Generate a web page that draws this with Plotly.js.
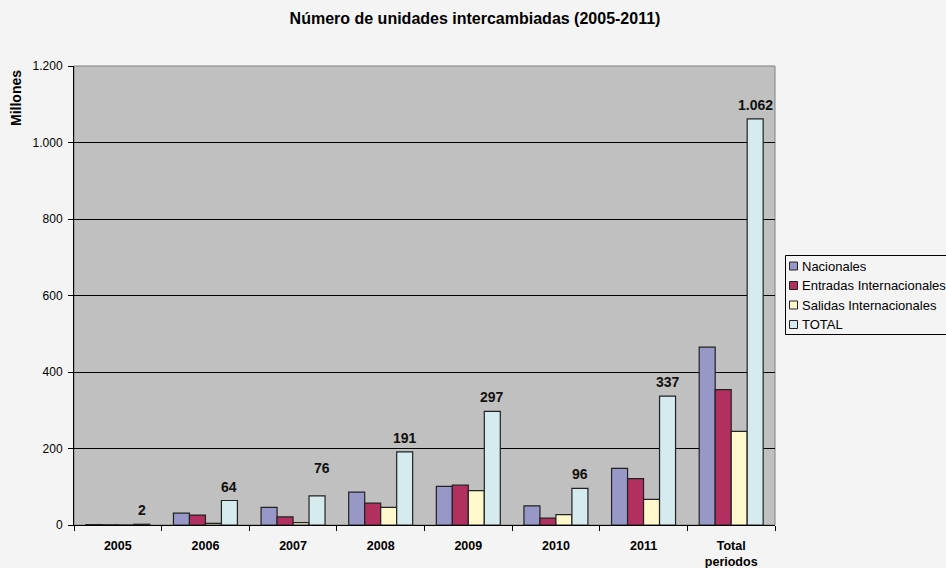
<!DOCTYPE html>
<html><head><meta charset="utf-8">
<script src="https://cdn.plot.ly/plotly-3.0.1.min.js"></script>
<style>html,body{margin:0;padding:0;background:#f4f4f4;}#chart{width:946px;height:568px;}</style>
</head><body><div id="chart"></div>
<script>
const categories = ['2005','2006','2007','2008','2009','2010','2011','Total<br>periodos'];
const nacionales = [1, 31, 46, 86, 101, 50, 148, 465];
const entradas = [0.5, 26, 21, 57, 104, 18, 121, 354];
const salidas = [0.3, 4, 6, 46, 90, 27, 67, 245];
const total = [2, 64, 76, 191, 297, 96, 337, 1062];
const seriesNames = ['Nacionales','Entradas Internacionales','Salidas Internacionales','TOTAL'];
const colors = ['#9898C8','#B2305F','#FFF8CC','#D5EBEE'];
const yTicks = [0,200,400,600,800,1000,1200];

const W = 946, H = 568, L = 74, R = 171, T = 66, B = 43;
const pw = W - L - R, ph = H - T - B;
const px = v => (v - L) / pw;
const py = v => (H - B - v) / ph;
const fmt = v => String(Math.round(v)).replace(/\B(?=(\d{3})+(?!\d))/g, '.');

const line = {color:'#222', width:1.2};
const traces = [nacionales, entradas, salidas, total].map((v,i)=>({
  type:'bar', x:categories, y:v, name:seriesNames[i],
  marker:{color:colors[i], line:line},
  hoverinfo:'skip', showlegend:false
}));

const bargap = 0.27;
const barW = pw / categories.length * (1 - bargap) / 4;

// label placement tweak (the 2007 label sits higher in the original)
const labelNudge = {2: {dx:5, dy:14}};
const annotations = total.map((v,i)=>({
  x: i, y: v, xref:'x', yref:'y', text:'<b>'+fmt(v)+'</b>', showarrow:false,
  xanchor:'center', yanchor:'bottom',
  xshift: barW*1.5 + (labelNudge[i] ? labelNudge[i].dx : 0),
  yshift: 4 + (labelNudge[i] ? labelNudge[i].dy : 0),
  font:{size:14, color:'#111'}
}));

const shapes = [{type:'rect', xref:'paper', yref:'paper', x0:0, x1:1, y0:0, y1:1, line:{color:'#808080', width:1}, layer:'below'}];
// legend
shapes.push({type:'rect', xref:'paper', yref:'paper', x0:px(785.5), x1:px(960), y0:py(255.5), y1:py(334.5), line:{color:'#000', width:1}, fillcolor:'#f4f4f4'});
const legY = [266, 285.5, 305, 324.5];
seriesNames.forEach((n,i)=>{
  shapes.push({type:'rect', xref:'paper', yref:'paper', x0:px(789.5), x1:px(797.5), y0:py(legY[i]-4), y1:py(legY[i]+4), line:{color:'#222', width:1}, fillcolor:colors[i]});
  annotations.push({xref:'paper', yref:'paper', x:px(799.5), y:py(legY[i]), text:n, showarrow:false, xanchor:'left', yanchor:'middle', font:{size:13, color:'#000'}});
});
annotations.push({xref:'paper', yref:'paper', x:px(16), y:py(98), text:'<b>Millones</b>', textangle:-90, showarrow:false, xanchor:'center', yanchor:'middle', font:{size:14}});

const layout = {
  width:W, height:H,
  margin:{l:L, r:R, t:T, b:B, autoexpand:false},
  paper_bgcolor:'#f4f4f4', plot_bgcolor:'#C0C0C0',
  separators:',.',
  font:{family:'Liberation Sans, Arial, sans-serif', size:12, color:'#000'},
  title:{text:'<b>Número de unidades intercambiadas (2005-2011)</b>', x:px(475), xanchor:'center', xref:'paper', y:(H-18)/H, yanchor:'middle', font:{size:16}},
  barmode:'group', bargap:bargap, bargroupgap:0,
  xaxis:{type:'category', categoryorder:'array', categoryarray:categories, range:[-0.5, categories.length-0.5],
    tickson:'boundaries', ticks:'outside', ticklen:5, tickcolor:'#000',
    showline:true, linecolor:'#000', linewidth:1, tickfont:{size:12.5, weight:'bold'}, showgrid:false, ticklabelstandoff:9},
  yaxis:{range:[0,1200], tickvals:yTicks, tickformat:',d', ticks:'outside', ticklen:5, tickcolor:'#000',
    showline:true, linecolor:'#000', linewidth:1, gridcolor:'#000', gridwidth:1, zeroline:false,
    tickfont:{size:12}, ticklabelstandoff:3},
  showlegend:false,
  shapes:shapes, annotations:annotations
};
Plotly.newPlot('chart', traces, layout, {displayModeBar:false, staticPlot:true});
</script></body></html>
